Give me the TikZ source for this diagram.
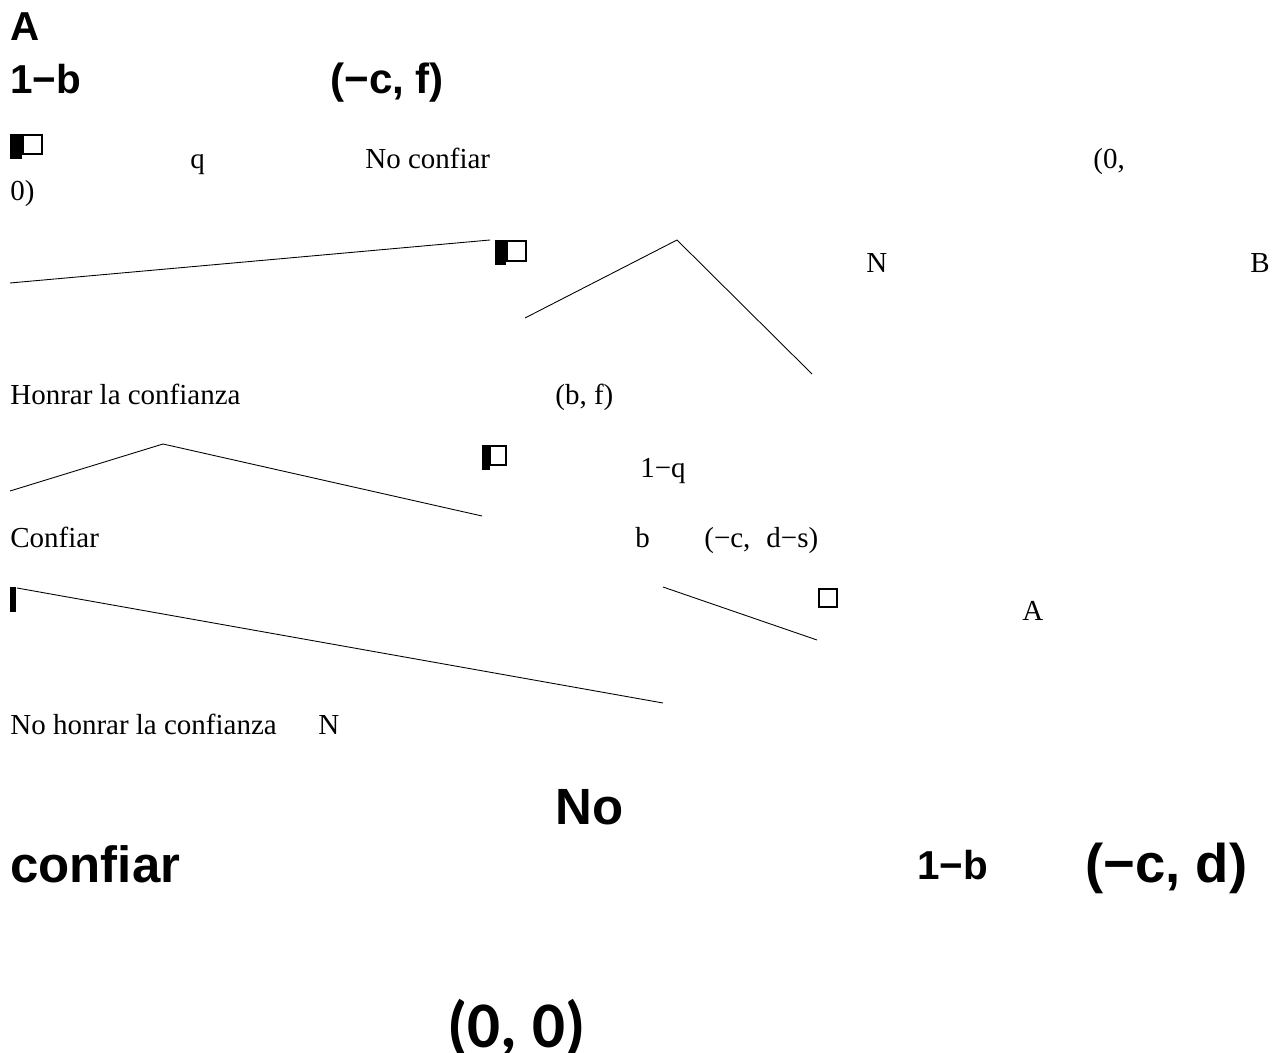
\documentclass[tikz,border=0pt]{standalone}
\usepackage{fontspec}
\setmainfont{Liberation Serif}
\newfontfamily\headfont{Liberation Sans}
\newfontfamily\pairfont{Carlito}

\begin{document}
\begin{tikzpicture}[x=0.02cm,y=-0.02cm,
  lbl/.style={anchor=base west,inner sep=0pt,font=\fontsize{16.5}{18}\selectfont},
  big/.style={anchor=base west,inner sep=0pt,font=\headfont\bfseries\fontsize{23}{26}\selectfont},
  huge/.style={anchor=base west,inner sep=0pt,font=\headfont\bfseries\fontsize{29}{32}\selectfont},
  branch/.style={line width=0.5pt},
  box/.style={draw,line width=0.8pt},
  bar/.style={fill=black}]

% ---------- page frame (pixels of the source) ----------
\useasboundingbox (0,0) rectangle (1284,1053);

% ---------- bold labels, top ----------
\node[big] (topA) at (10,41) {A};
\node[big] (topprob) at (10,94) {1\textminus b};
\node[big,font=\headfont\bfseries\fontsize{24}{26}\selectfont] (toppay) at (330,94) {(\textminus c, f)};

% ---------- small labels ----------
\node[lbl] (q) at (190,169) {q};
\node[lbl] (noconf) at (365,169) {No confiar};
\node[lbl] (zeroa) at (1093,169) {(0,};
\node[lbl] (zerob) at (10,201) {0)};
\node[lbl] (natN) at (866,273) {N};
\node[lbl] (playB) at (1250,273) {B};
\node[lbl] (honrar) at (10,405) {Honrar la confianza};
\node[lbl] (payb) at (555,405) {(b, f)};
\node[lbl] (oneq) at (640,478) {1\textminus q};
\node[lbl] (conf) at (10,548) {Confiar};
\node[lbl] (probb) at (635,548) {b};
\node[lbl] (payds) at (704,548) {(\textminus c,\hspace{0.3em} d\textminus s)};
\node[lbl] (playA) at (1022,621) {A};
\node[lbl] (nohonrar) at (10,734) {No honrar la confianza};
\node[lbl] (natN2) at (318,734) {N};

% ---------- bold labels, bottom ----------
\node[huge] (botno) at (555,824) {No};
\node[huge] (botconf) at (10,882) {confiar};
\node[big] (botprob) at (917,879) {1\textminus b};
\node[big,font=\headfont\bfseries\fontsize{31}{34}\selectfont] (botpay) at (1085,882) {(\textminus c, d)};
\node[anchor=base west,inner sep=0pt,font=\pairfont\bfseries\fontsize{37}{40}\selectfont] (botzero) at (447,1047) {(0, 0)};

% ---------- decision boxes ----------
\fill[bar] (10,134) rectangle (22,159);
\draw[box] (23,135) rectangle (42,154);
\fill[bar] (495,240) rectangle (506,265);
\draw[box] (507,241) rectangle (526,261);
\fill[bar] (482,445) rectangle (490,470);
\draw[box] (490,446) rectangle (506,465);
\fill[bar] (10,587) rectangle (16,612);
\draw[box] (819,589) rectangle (837,607);

% ---------- branches ----------
\coordinate (b1s) at (10,283);
\coordinate (b1e) at (490,240);
\coordinate (v1l) at (525,318);
\coordinate (v1t) at (677,240);
\coordinate (v1r) at (812,374);
\coordinate (v2l) at (10,491);
\coordinate (v2t) at (163,444);
\coordinate (v2r) at (482,516);
\coordinate (b4s) at (17,588);
\coordinate (b4e) at (663,703);
\coordinate (b5s) at (663,587);
\coordinate (b5e) at (817,640);

\draw[branch] (b1s) -- (b1e);
\draw[branch] (v1l) -- (v1t) -- (v1r);
\draw[branch] (v2l) -- (v2t) -- (v2r);
\draw[branch] (b4s) -- (b4e);
\draw[branch] (b5s) -- (b5e);

\end{tikzpicture}
\end{document}
